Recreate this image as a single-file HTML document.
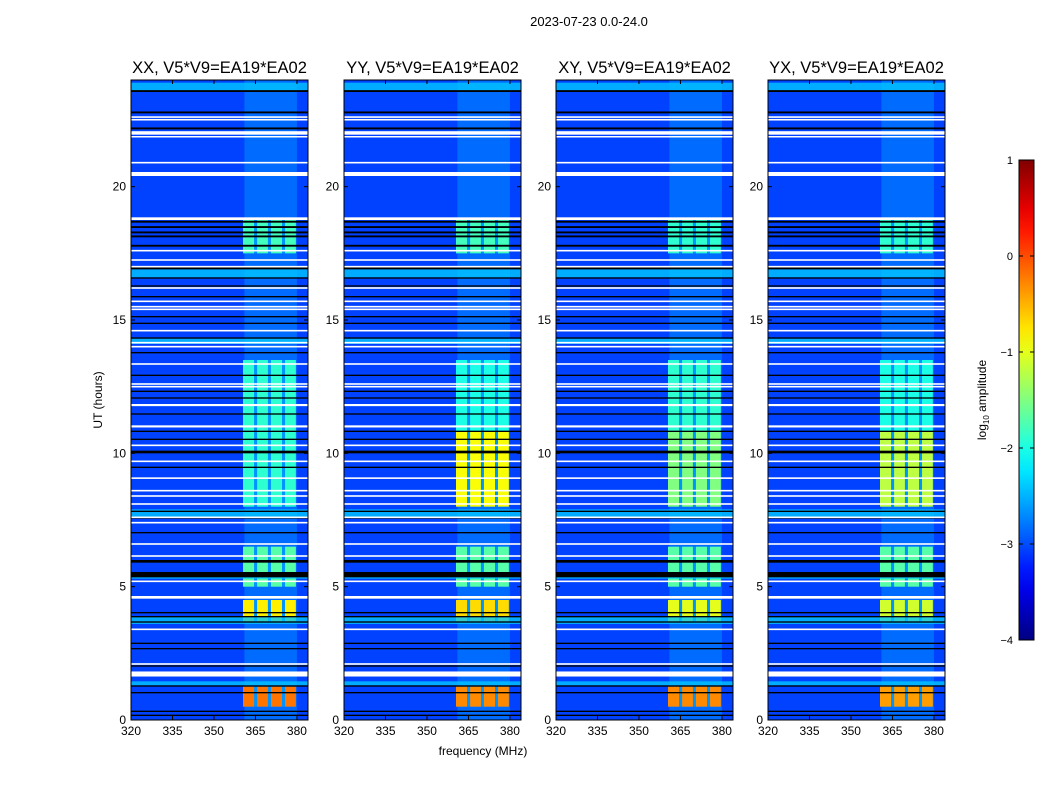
<!DOCTYPE html>
<html><head><meta charset="utf-8">
<style>
body{margin:0;background:#fff;}
svg text{font-family:"Liberation Sans",sans-serif;fill:#000;}
</style></head>
<body>
<svg id="fig" width="1050" height="800" xmlns="http://www.w3.org/2000/svg">
<rect x="0" y="0" width="1050" height="800" fill="#fff"/>
<text x="589" y="26" font-size="13" text-anchor="middle">2023-07-23 0.0-24.0</text>
<text x="483" y="755" font-size="12" text-anchor="middle">frequency (MHz)</text>
<text transform="translate(102,400) rotate(-90)" font-size="12" text-anchor="middle">UT (hours)</text>
<g id="panels"></g>
<g id="cbar"></g>
</svg>
<script>
// ---- data ----
const panelTitles = ["XX, V5*V9=EA19*EA02","YY, V5*V9=EA19*EA02","XY, V5*V9=EA19*EA02","YX, V5*V9=EA19*EA02"];
const xTicks = [320,335,350,365,380];
const yTicks = [0,5,10,15,20];
const cbTicks = [1,0,-1,-2,-3,-4];
const backgroundLevel = -3.05;
const rfiRegion = [361,380];
const rfiRegionLevel = -2.85;
const gapLevel = -2.65;
const subbands = [[360.5,364.5],[365.6,369.5],[370.6,374.6],[375.7,379.6]];
const rfiSegments = [[0.5,1.25],[3.7,4.5],[5.0,6.5],[8.0,10.8],[10.8,13.5],[17.5,18.8]];
const rfiLevelsXX = [-0.2,-0.8,-1.7,-1.9,-1.9,-1.8];
const rfiLevelsYY = [-0.3,-0.7,-1.7,-0.9,-2.0,-1.8];
const rfiLevelsXY = [-0.3,-1.0,-1.7,-1.5,-1.9,-1.9];
const rfiLevelsYX = [-0.4,-1.1,-1.7,-1.2,-2.0,-1.9];
const cyanBands = [[16.6,16.9],[14.1,14.3],[7.6,7.9],[5.3,5.45],[3.6,3.9],[1.3,1.45],[23.6,23.9]];
const cyanLevel = -2.4;
const blackFlags = [[23.55,23.62],[22.75,22.82],[22.15,22.22],[18.65,18.72],[18.45,18.52],[18.25,18.32],[18.1,18.17],[17.75,17.82],[16.9,16.98],[16.55,16.6],[16.25,16.3],[15.85,15.9],[15.1,15.15],[14.85,14.9],[14.3,14.35],[13.75,13.8],[12.9,12.95],[12.3,12.35],[12.05,12.1],[11.45,11.5],[10.8,10.85],[10.5,10.55],[10.0,10.1],[9.45,9.5],[7.8,7.85],[7.55,7.6],[7.0,7.05],[5.9,6.0],[5.35,5.55],[4.0,4.05],[3.85,3.9],[3.65,3.7],[2.85,2.9],[2.65,2.7],[2.0,2.05],[1.25,1.3],[1.0,1.05],[0.3,0.35],[0.15,0.2]];
const whiteFlags = [[22.58,22.64],[22.48,22.54],[21.95,22.08],[21.85,21.9],[20.87,20.93],[20.4,20.55],[18.75,18.85],[17.57,17.63],[17.22,17.28],[16.97,17.03],[16.17,16.23],[15.67,15.73],[15.47,15.53],[15.37,15.43],[14.57,14.63],[14.12,14.18],[13.97,14.03],[13.32,13.38],[12.57,12.63],[12.47,12.53],[11.77,11.85],[10.97,11.05],[10.27,10.33],[9.67,9.73],[9.04,9.1],[8.57,8.63],[8.37,8.43],[8.07,8.13],[7.57,7.63],[7.37,7.43],[6.57,6.63],[6.12,6.18],[5.17,5.23],[4.55,4.65],[3.37,3.43],[2.07,2.13],[1.63,1.82]];
// ---- layout ----
const panelX = [131,344,556,768];
const panelW = 177, plotTop = 80, plotBottom = 720;
const fMin = 320, fMax = 384, tMin = 0, tMax = 24;
const cbX = 1019, cbW = 15, cbTop = 160, cbBot = 640;
const NS = "http://www.w3.org/2000/svg";
function jet(v){
  const t = Math.max(0,Math.min(1,(v+4)/5));
  const c = x=>Math.round(255*Math.max(0,Math.min(1,1.5-Math.abs(4*t-x))));
  return `rgb(${c(3)},${c(2)},${c(1)})`;
}
function mk(tag, attrs, parent){
  const e = document.createElementNS(NS, tag);
  for (const k in attrs) e.setAttribute(k, attrs[k]);
  parent.appendChild(e); return e;
}
const levelSets = [rfiLevelsXX, rfiLevelsYY, rfiLevelsXY, rfiLevelsYX];
const panelsG = document.getElementById("panels");
panelX.forEach((px, pi)=>{
  const xs = f => px + (f - fMin) / (fMax - fMin) * panelW;
  const ys = t => plotBottom - (t - tMin) / (tMax - tMin) * (plotBottom - plotTop);
  const g = mk("g", {}, panelsG);
  
  
  const bg = mk("rect", {x:px, y:plotTop, width:panelW, height:plotBottom-plotTop, fill:jet(backgroundLevel)}, g);
  
  
  const rr = mk("rect", {x:xs(rfiRegion[0]), y:plotTop, width:xs(rfiRegion[1])-xs(rfiRegion[0]), height:plotBottom-plotTop, fill:jet(rfiRegionLevel)}, g);
  
  
  rfiSegments.forEach((s, si)=>{
    const gap = mk("rect", {x:xs(subbands[0][0]), y:ys(s[1]), width:xs(subbands[3][1])-xs(subbands[0][0]), height:ys(s[0])-ys(s[1]), fill:jet(gapLevel)}, g);
    
    
    subbands.forEach(b=>{
      const r = mk("rect", {x:xs(b[0]), y:ys(s[1]), width:xs(b[1])-xs(b[0]), height:ys(s[0])-ys(s[1]), fill:jet(levelSets[pi][si])}, g);
      
      
    });
  });
  cyanBands.forEach(b=>{
    const r = mk("rect", {x:px, y:ys(b[1]), width:panelW, height:ys(b[0])-ys(b[1]), fill:jet(cyanLevel), opacity:0.8}, g);
    
    
  });
  blackFlags.forEach(b=>{
    const r = mk("rect", {x:px, y:ys(b[1]), width:panelW, height:Math.max(1,ys(b[0])-ys(b[1])), fill:"#000"}, g);
    
    
  });
  whiteFlags.forEach(b=>{
    const r = mk("rect", {x:px, y:ys(b[1]), width:panelW, height:Math.max(1.5,ys(b[0])-ys(b[1])), fill:"#fff"}, g);
    
    
  });
  const fr = mk("rect", {x:px, y:plotTop, width:panelW, height:plotBottom-plotTop, fill:"none", stroke:"#000", "stroke-width":1}, g);
  
  
  const tt = mk("text", {x:px+panelW/2, y:plotTop-7, "font-size":16.5, "text-anchor":"middle"}, g);
  tt.textContent = panelTitles[pi];
  
  
  xTicks.forEach(f=>{
    const x = xs(f);
    mk("line", {x1:x, x2:x, y1:plotBottom, y2:plotBottom-4, stroke:"#000"}, g);
    mk("line", {x1:x, x2:x, y1:plotTop, y2:plotTop+4, stroke:"#000"}, g);
    const t = mk("text", {x:x, y:plotBottom+15, "font-size":12, "text-anchor":"middle"}, g);
    t.textContent = f;
    
    
  });
  yTicks.forEach(v=>{
    const y = ys(v);
    mk("line", {x1:px, x2:px+4, y1:y, y2:y, stroke:"#000"}, g);
    mk("line", {x1:px+panelW, x2:px+panelW-4, y1:y, y2:y, stroke:"#000"}, g);
    const t = mk("text", {x:px-5, y:y+4, "font-size":12, "text-anchor":"end"}, g);
    t.textContent = v;
    
    
  });
});
// colorbar
const cb = document.getElementById("cbar");


const defs = mk("defs", {}, cb);
const grad = mk("linearGradient", {id:"jetg", x1:0, y1:1, x2:0, y2:0}, defs);
for (let i=0;i<=20;i++){ mk("stop", {offset:(i/20), "stop-color":jet(-4+5*i/20)}, grad); }
const cbs = v => cbBot - (v + 4) / 5 * (cbBot - cbTop);
mk("rect", {x:cbX, y:cbTop, width:cbW, height:cbBot-cbTop, fill:"url(#jetg)", stroke:"#000"}, cb);
cbTicks.forEach(v=>{
  const y = cbs(v);
  mk("line", {x1:cbX, x2:cbX+4, y1:y, y2:y, stroke:"#000"}, cb);
  mk("line", {x1:cbX+cbW, x2:cbX+cbW-4, y1:y, y2:y, stroke:"#000"}, cb);
  const t = mk("text", {x:cbX-6, y:y+4, "font-size":11, "text-anchor":"end"}, cb);
  t.textContent = v < 0 ? "\u2212" + Math.abs(v) : v;
  
  
});
const cl = mk("text", {transform:"translate(986,400) rotate(-90)", "font-size":12, "text-anchor":"middle"}, cb);
cl.innerHTML = 'log<tspan font-size="8" dy="3">10</tspan><tspan dy="-3"> amplitude</tspan>';


</script>
</body></html>
